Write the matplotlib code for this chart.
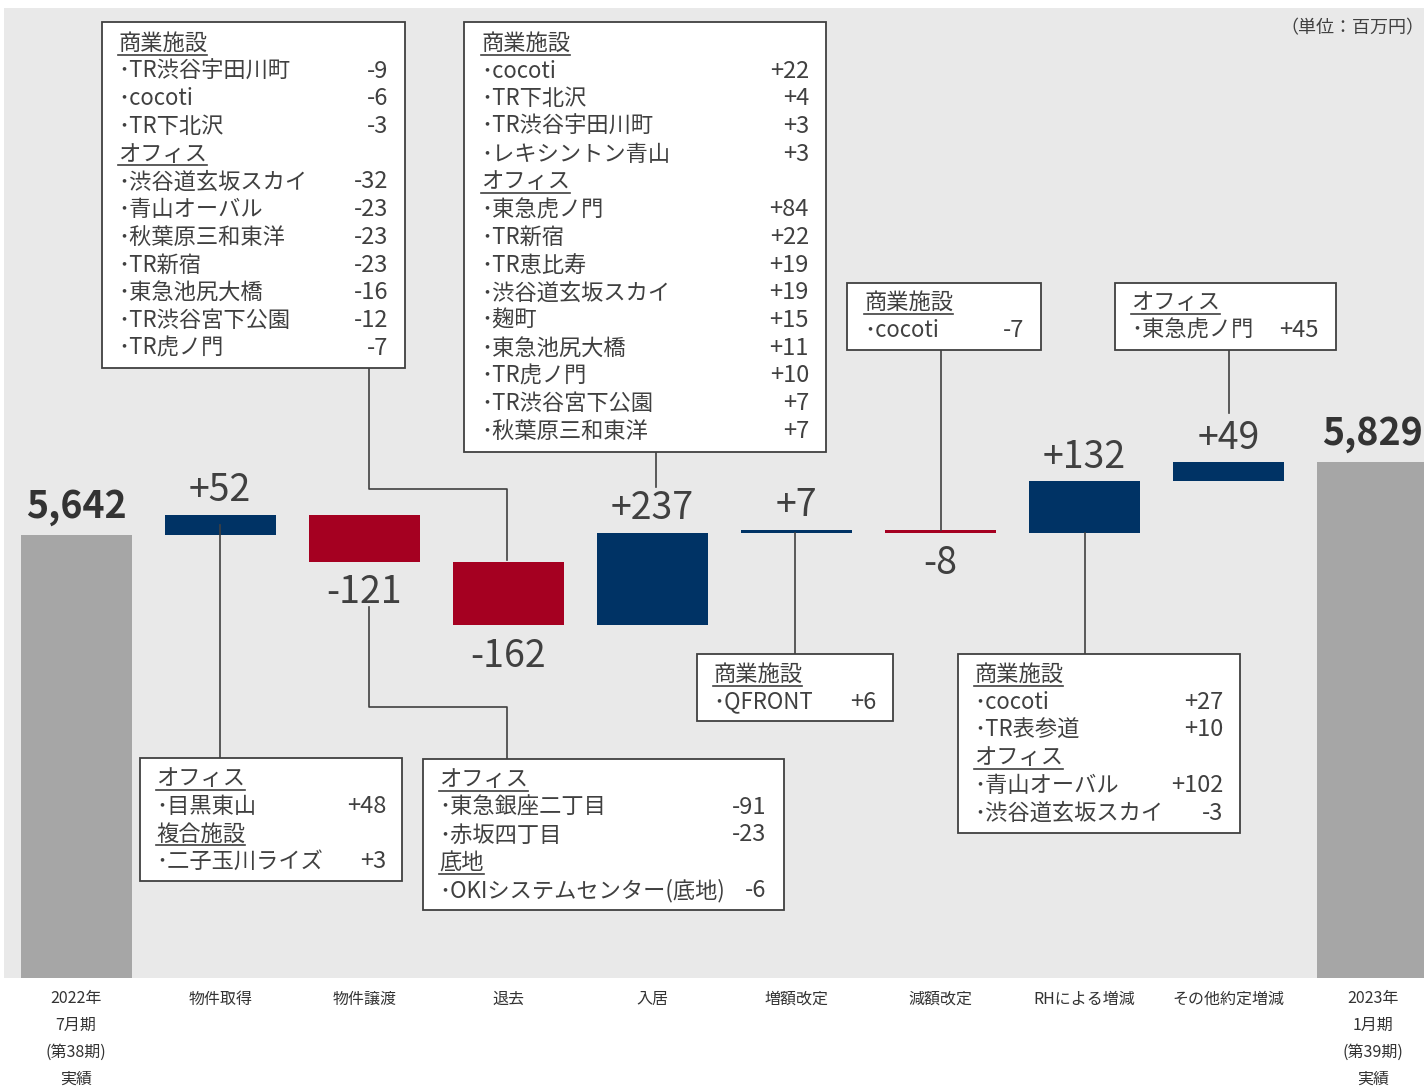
import matplotlib
matplotlib.use('Agg')
import matplotlib.pyplot as plt
import numpy as np

plt.rcParams['font.family'] = ['Noto Sans CJK JP', 'DejaVu Sans']

# データ
categories = ['2022年\n7月期\n(第38期)\n実績', '物件取得', '物件譲渡', '退去', '入居',
              '増額改定', '減額改定', 'RHによる増減', 'その他約定増減',
              '2023年\n1月期\n(第39期)\n実績']
start_total = 5642
end_total = 5829
changes = [52, -121, -162, 237, 7, -8, 132, 49]

# 内訳ボックスの中身 (見出しは値なし)
box_taikyo = [('商業施設', None), ('TR渋谷宇田川町', '-9'), ('cocoti', '-6'), ('TR下北沢', '-3'),
              ('オフィス', None), ('渋谷道玄坂スカイ', '-32'), ('青山オーバル', '-23'),
              ('秋葉原三和東洋', '-23'), ('TR新宿', '-23'), ('東急池尻大橋', '-16'),
              ('TR渋谷宮下公園', '-12'), ('TR虎ノ門', '-7')]
box_nyukyo = [('商業施設', None), ('cocoti', '+22'), ('TR下北沢', '+4'), ('TR渋谷宇田川町', '+3'),
              ('レキシントン青山', '+3'), ('オフィス', None), ('東急虎ノ門', '+84'), ('TR新宿', '+22'),
              ('TR恵比寿', '+19'), ('渋谷道玄坂スカイ', '+19'), ('麹町', '+15'),
              ('東急池尻大橋', '+11'), ('TR虎ノ門', '+10'), ('TR渋谷宮下公園', '+7'),
              ('秋葉原三和東洋', '+7')]
box_gengaku = [('商業施設', None), ('cocoti', '-7')]
box_sonota = [('オフィス', None), ('東急虎ノ門', '+45')]
box_shutoku = [('オフィス', None), ('目黒東山', '+48'), ('複合施設', None), ('二子玉川ライズ', '+3')]
box_joto = [('オフィス', None), ('東急銀座二丁目', '-91'), ('赤坂四丁目', '-23'),
            ('底地', None), ('OKIシステムセンター(底地)', '-6')]
box_zougaku = [('商業施設', None), ('QFRONT', '+6')]
box_rh = [('商業施設', None), ('cocoti', '+27'), ('TR表参道', '+10'), ('オフィス', None),
          ('青山オーバル', '+102'), ('渋谷道玄坂スカイ', '-3')]

navy = '#003365'
red = '#a50021'
gray = '#a6a6a6'
txt = '#404040'

W, H = 1424, 1089
fig = plt.figure(figsize=(W / 100, H / 100), dpi=100)
ax = fig.add_axes([4 / W, 111 / H, 1420 / W, 970 / H])
ax.set_facecolor('#e9e9e9')
ax.set_xlim(-0.5, 9.355)
ax.set_ylim(4506, 6993)
for s in ax.spines.values():
    s.set_visible(False)
ax.set_yticks([])
ax.set_xticks(range(len(categories)))
ax.set_xticklabels(categories, fontsize=11.5, linespacing=1.75, color='#333333')
ax.tick_params(axis='x', length=0, pad=9)

# ウォーターフォール
cum = start_total + np.cumsum([0] + changes[:-1])
bottoms = np.where(np.array(changes) >= 0, cum, cum + np.array(changes))
heights = np.abs(changes)
xs = np.arange(1, len(changes) + 1)
cols = [navy if c >= 0 else red for c in changes]
ax.bar([0, len(categories) - 1], [start_total, end_total], width=0.77, color=gray, zorder=2)
ax.bar(xs, heights, bottom=bottoms, width=0.77, color=cols, zorder=2)

for x, v in zip([0, len(categories) - 1], [start_total, end_total]):
    ax.annotate(f'{v:,}', (x, v), xytext=(0, 28), textcoords='offset pixels',
                ha='center', va='center', fontsize=27, fontweight='bold', color='#333333')
for x, c, b, h in zip(xs, changes, bottoms, heights):
    if c >= 0:
        ax.annotate(f'+{c}', (x, b + h), xytext=(0, 24), textcoords='offset pixels',
                    ha='center', va='center', fontsize=27, color=txt)
    else:
        ax.annotate(f'{c}', (x, b), xytext=(0, -31), textcoords='offset pixels',
                    ha='center', va='center', fontsize=27, color=txt)

# 注記用のオーバーレイ (ピクセル座標, 上が0)
ov = fig.add_axes([0, 0, 1, 1])
ov.set_xlim(0, W)
ov.set_ylim(H, 0)
ov.axis('off')
ov.patch.set_alpha(0)

def bar_px(i, v):
    x, y = ax.transData.transform((i, v))
    return x, H - y

fig.canvas.draw()
renderer = fig.canvas.get_renderer()

def draw_box(x0, y0, x1, y1, tx, vx, ty, rows):
    ov.add_patch(plt.Rectangle((x0, y0), x1 - x0, y1 - y0, facecolor='white',
                               edgecolor=txt, lw=1.3, zorder=3))
    for k, (name, val) in enumerate(rows):
        y = ty + 1.5 + k * 27.7
        if val is None:
            t = ov.text(tx, y, name, fontsize=16, color=txt, ha='left', va='center', zorder=4)
            bb = t.get_window_extent(renderer)
            ov.plot([bb.x0, bb.x1], [y + 11, y + 11], color=txt, lw=1.2, zorder=4)
        else:
            ov.text(tx, y, '･' + name, fontsize=16, color=txt, ha='left', va='center', zorder=4)
            ov.text(vx, y, val, fontsize=17, color=txt, ha='right', va='center', zorder=4)

def connector(pts):
    px, py = zip(*pts)
    ov.plot(px, py, color=txt, lw=1.2, zorder=2.5)

draw_box(102, 22, 405, 368, 118, 388, 42, box_taikyo)
draw_box(464, 22, 826, 452, 481, 809, 42, box_nyukyo)
draw_box(847, 283, 1041, 350, 864, 1024, 301, box_gengaku)
draw_box(1115, 283, 1336, 350, 1131, 1319, 301, box_sonota)
draw_box(140, 758, 402, 881, 156, 386, 777, box_shutoku)
draw_box(423, 759, 784, 910, 439, 766, 778, box_joto)
draw_box(697, 654, 893, 721, 713, 876, 673, box_zougaku)
draw_box(958, 654, 1240, 833, 974, 1223, 673, box_rh)

# 引き出し線
bx, by = bar_px(3, bottoms[2] + heights[2])
connector([(369, 368), (369, 489), (507, 489), (507, by - 2)])
connector([(656, 452), (656, 487)])
bx, by = bar_px(6, bottoms[5] + heights[5])
connector([(941, 350), (941, by)])
connector([(1229, 350), (1229, 413)])
bx, by = bar_px(1, bottoms[0] + heights[0] / 2)
connector([(bx, by), (bx, 758)])
connector([(369, 607), (369, 707), (507, 707), (507, 759)])
bx, by = bar_px(5, bottoms[4])
connector([(795, by), (795, 654)])
bx, by = bar_px(7, bottoms[6])
connector([(1085, by), (1085, 654)])

fig.text(1424 / W, 1 - 28 / H, '（単位：百万円）', fontsize=13, color=txt, ha='right', va='center')

fig.savefig('out.png', dpi=100)
